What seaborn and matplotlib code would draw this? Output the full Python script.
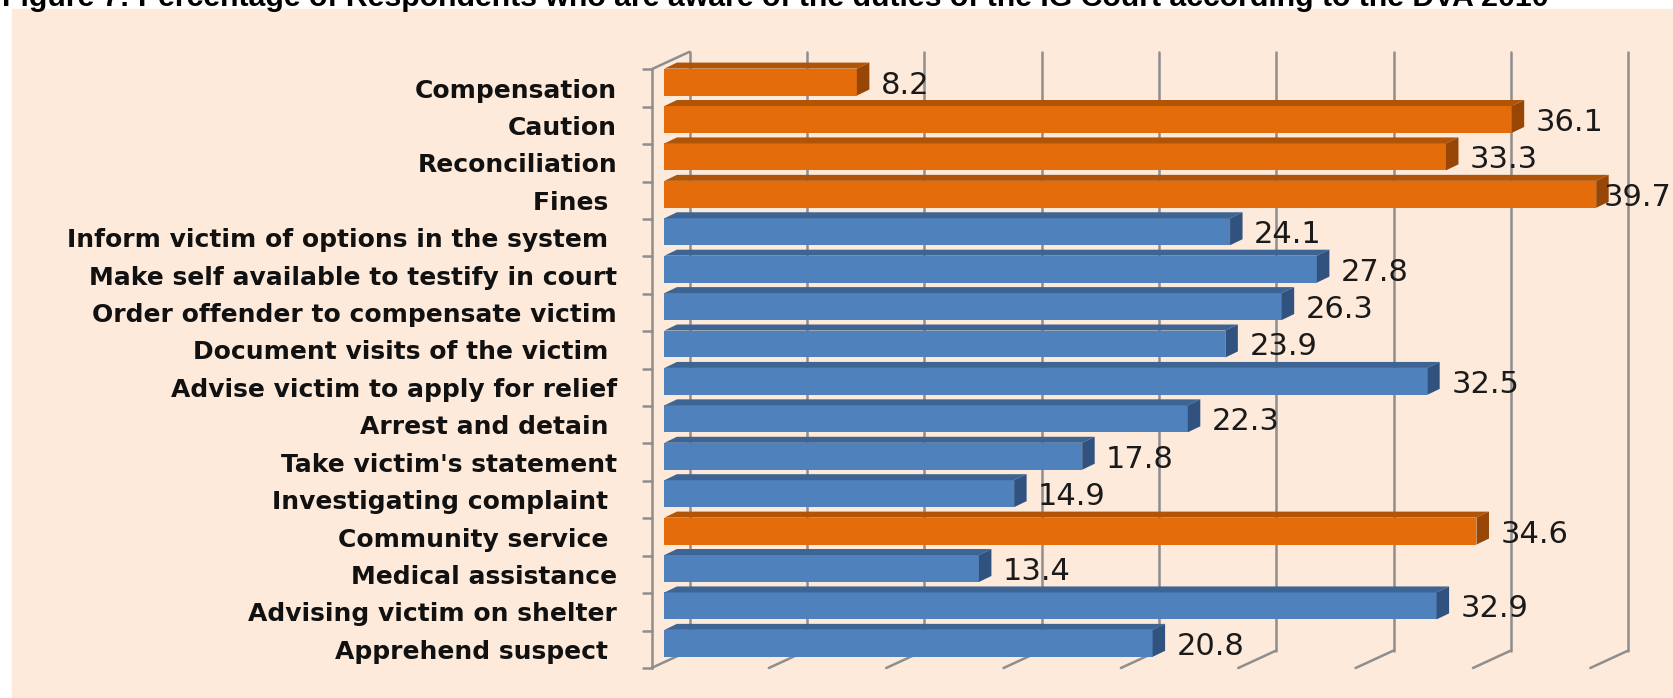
import matplotlib
matplotlib.use("Agg")
import matplotlib.pyplot as plt
import pandas as pd
import seaborn as sns
from matplotlib.colors import to_hex
from matplotlib.lines import Line2D
from matplotlib.patches import Polygon, Rectangle
from matplotlib.transforms import IdentityTransform, ScaledTranslation

# ---------------------------------------------------------------- data
duties = [
    "Compensation",
    "Caution",
    "Reconciliation",
    "Fines ",
    "Inform victim of options in the system ",
    "Make self available to testify in court",
    "Order offender to compensate victim",
    "Document visits of the victim ",
    "Advise victim to apply for relief",
    "Arrest and detain ",
    "Take victim's statement",
    "Investigating complaint ",
    "Community service ",
    "Medical assistance",
    "Advising victim on shelter",
    "Apprehend suspect ",
]
percent = [8.2, 36.1, 33.3, 39.7, 24.1, 27.8, 26.3, 23.9,
           32.5, 22.3, 17.8, 14.9, 34.6, 13.4, 32.9, 20.8]
group = ["Court", "Court", "Court", "Court", "Police", "Police", "Police", "Police",
         "Police", "Police", "Police", "Police", "Court", "Police", "Police", "Police"]
x_ticks = [0, 5, 10, 15, 20, 25, 30, 35, 40]
title = ("Figure 7: Percentage of Respondents who are aware of the duties "
         "of the IG Court according to the DVA 2010")

df = pd.DataFrame({"duty": duties, "percent": percent, "group": group})

# ---------------------------------------------------------------- style
front = {"Court": "#E46C0A", "Police": "#4F81BD"}
top_shade = {"#e46c0a": "#B05408", "#4f81bd": "#3D6493"}
side_shade = {"#e46c0a": "#984606", "#4f81bd": "#31527F"}
panel_color = "#FDEADB"
grid_color = "#8E8E8E"

sns.set_style("white")
plt.rcParams["font.family"] = ["DejaVu Sans"]

W, H = 1673, 698
fig = plt.figure(figsize=(W / 100, H / 100), dpi=100, facecolor="white")
fig.patches.append(Rectangle((12 / W, 0), 1 - 12 / W, 1 - 9 / H,
                             transform=fig.transFigure, color=panel_color, zorder=-5))

# 3-D box geometry (pixels): depth vector and where the bars sit in it
DX, DY = 38.0, 17.5
FRAC = 0.34
BAR_DX, BAR_DY = 12.5, 6.0
px_per_unit = 23.47
left_px = 651.5 + FRAC * DX
top_px = 69.3 - FRAC * DY
bottom_px = 668.0 - FRAC * DY

ax = fig.add_axes([left_px / W, (H - bottom_px) / H,
                   px_per_unit * x_ticks[-1] / W, (bottom_px - top_px) / H])
sns.barplot(data=df, x="percent", y="duty", hue="group", palette=front,
            dodge=False, width=0.72, saturation=1, linewidth=0, legend=False,
            orient="h", ax=ax, zorder=3)
ax.set_xlim(x_ticks[0], x_ticks[-1])
ax.set_ylim(len(duties) - 0.5, -0.5)
ax.set_facecolor("none")
for s in ax.spines.values():
    s.set_visible(False)
ax.set_xticks([])
ax.set_xlabel("")
ax.set_ylabel("")

# category labels: bold, right-aligned left of the side wall
renderer = fig.canvas.get_renderer()


def fitted_size(text, target_px, **kw):
    t = fig.text(0, 0, text, fontsize=10, **kw)
    w = t.get_window_extent(renderer).width
    t.remove()
    return 10 * target_px / w


lab_size = fitted_size("Make self available to testify in court", 526,
                       family="DejaVu Sans", weight="bold")
ax.tick_params(axis="y", length=0, pad=(left_px - 617) * 0.72)
shift_down = ScaledTranslation(0, -FRAC * DY / 100, fig.dpi_scale_trans)
for lbl in ax.get_yticklabels():
    lbl.set_fontsize(lab_size)
    lbl.set_fontweight("bold")
    lbl.set_color("#111111")
    lbl.set_transform(lbl.get_transform() + shift_down)

ident = IdentityTransform()
to_disp = ax.transData.transform

# back wall, floor and side wall lines
y_top = to_disp((0, -0.5))[1]
y_bot = to_disp((0, len(duties) - 0.5))[1]
bdx, bdy = (1 - FRAC) * DX, (1 - FRAC) * DY
fdx, fdy = FRAC * DX, FRAC * DY
for v in x_ticks:
    xv = to_disp((v, 0))[0]
    ax.add_line(Line2D([xv + bdx, xv + bdx], [y_top + bdy, y_bot + bdy],
                       color=grid_color, lw=1.8, transform=ident, clip_on=False, zorder=1))
    ax.add_line(Line2D([xv + bdx, xv - fdx], [y_bot + bdy, y_bot - fdy],
                       color=grid_color, lw=1.8, transform=ident, clip_on=False, zorder=1))
x0 = to_disp((0, 0))[0] - fdx
ax.add_line(Line2D([x0, x0], [y_top - fdy, y_bot - fdy], color=grid_color, lw=1.8,
                   transform=ident, clip_on=False, zorder=1))
ax.add_line(Line2D([x0, x0 + DX], [y_top - fdy, y_top - fdy + DY], color=grid_color,
                   lw=1.8, transform=ident, clip_on=False, zorder=1))
for k in range(len(duties) + 1):
    yk = to_disp((0, k - 0.5))[1] - fdy
    ax.add_line(Line2D([x0 - 9, x0], [yk, yk], color=grid_color, lw=1.8,
                       transform=ident, clip_on=False, zorder=1))

# top and end faces of each bar
for p in ax.patches:
    if not isinstance(p, Rectangle) or p.get_width() <= 0:
        continue
    (xa, ya), (xb, yb) = to_disp([(p.get_x(), p.get_y()),
                                  (p.get_x() + p.get_width(), p.get_y() + p.get_height())])
    xl, xr = min(xa, xb), max(xa, xb)
    yl, yh = min(ya, yb), max(ya, yb)
    key = to_hex(p.get_facecolor())
    top = Polygon([(xl, yh), (xr, yh), (xr + BAR_DX, yh + BAR_DY), (xl + BAR_DX, yh + BAR_DY)],
                  closed=True, facecolor=top_shade[key], edgecolor="none",
                  transform=ident, clip_on=False, zorder=3)
    side = Polygon([(xr, yl), (xr, yh), (xr + BAR_DX, yh + BAR_DY), (xr + BAR_DX, yl + BAR_DY)],
                   closed=True, facecolor=side_shade[key], edgecolor="none",
                   transform=ident, clip_on=False, zorder=3)
    ax.add_patch(top)
    ax.add_patch(side)

# value labels
labels = []
for c in ax.containers:
    labels += ax.bar_label(c, fmt="{:.1f}", padding=24 * 0.72, fontsize=22,
                           color="#1A1A1A", family="DejaVu Sans", zorder=5)
for a in labels:
    a.set_clip_on(False)
    ox, oy = a.xyann
    a.xyann = (ox, oy - 3 * 0.72)

fig.canvas.draw()
for a in labels:
    bb = a.get_window_extent(renderer)
    if bb.x1 > W - 1:
        ox, oy = a.xyann
        a.xyann = (ox - (bb.x1 - (W - 1)) * 0.72, oy)

# figure caption, running off the top edge
t_size = fitted_size(title, 1548, family="Liberation Sans", weight="bold")
fig.text(2 / W, 1 - 6 / H, title, ha="left", va="baseline", fontsize=t_size,
         family="Liberation Sans", weight="bold", color="black")

fig.savefig("out.png", dpi=100, facecolor="white")
